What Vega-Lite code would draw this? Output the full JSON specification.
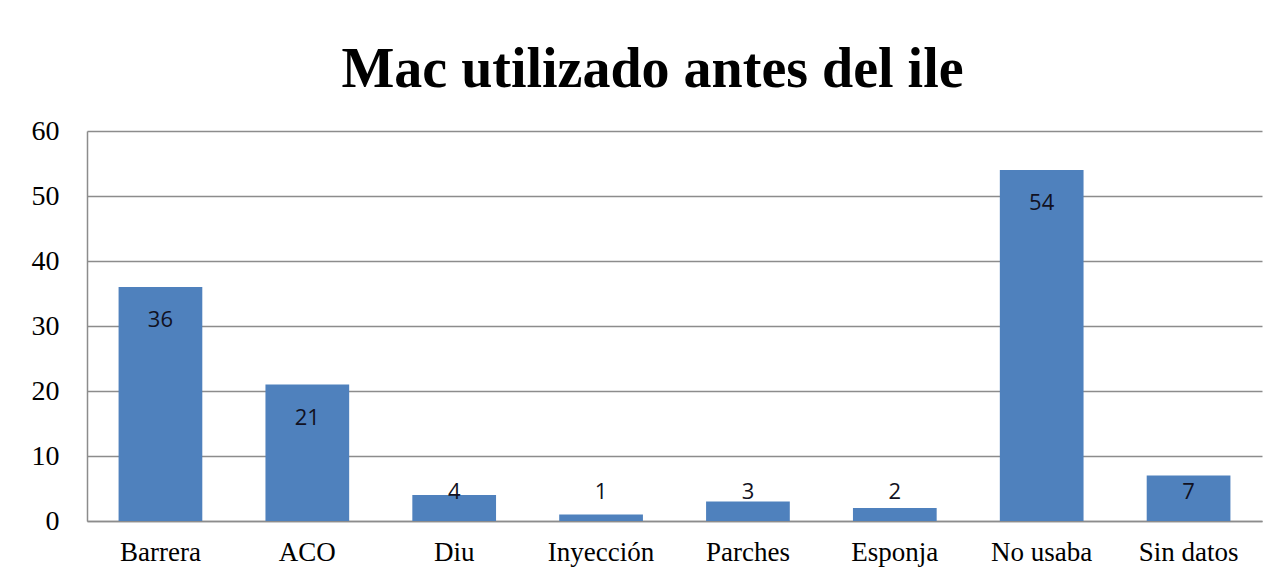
{
  "$schema": "https://vega.github.io/schema/vega-lite/v6.json",
  "width": 1175,
  "height": 390,
  "autosize": {"type": "none"},
  "padding": {"left": 87, "top": 131, "right": 17, "bottom": 61},
  "background": "white",
  "title": {
    "text": "Mac utilizado antes del ile",
    "font": "Liberation Serif",
    "fontSize": 56,
    "fontWeight": "bold",
    "color": "#000000",
    "anchor": "middle",
    "baseline": "alphabetic",
    "offset": -26,
    "dx": -22
  },
  "data": {
    "values": [
      {"metodo": "Barrera", "n": 36},
      {"metodo": "ACO", "n": 21},
      {"metodo": "Diu", "n": 4},
      {"metodo": "Inyección", "n": 1},
      {"metodo": "Parches", "n": 3},
      {"metodo": "Esponja", "n": 2},
      {"metodo": "No usaba", "n": 54},
      {"metodo": "Sin datos", "n": 7}
    ]
  },
  "encoding": {
    "x": {
      "field": "metodo",
      "type": "nominal",
      "sort": null,
      "scale": {"paddingInner": 0.43, "paddingOuter": 0.215},
      "axis": {
        "title": null,
        "labelAngle": 0,
        "labelFont": "Liberation Serif",
        "labelFontSize": 27,
        "labelColor": "#000000",
        "labelPadding": 18,
        "ticks": false,
        "domainColor": "#8c8c8c",
        "domainWidth": 1.5
      }
    }
  },
  "layer": [
    {
      "mark": {"type": "bar", "color": "#4F81BD"},
      "encoding": {
        "y": {
          "field": "n",
          "type": "quantitative",
          "scale": {"domain": [0, 60]},
          "axis": {
            "title": null,
            "values": [0, 10, 20, 30, 40, 50, 60],
            "labelFont": "Liberation Serif",
            "labelFontSize": 28,
            "labelColor": "#000000",
            "labelPadding": 28,
            "ticks": false,
            "grid": true,
            "gridColor": "#8c8c8c",
            "gridWidth": 1.5,
            "domainColor": "#8c8c8c",
            "domainWidth": 1.5
          }
        }
      }
    },
    {
      "transform": [{"filter": "datum.n >= 10"}],
      "mark": {"type": "text", "font": "Open Sans", "fontSize": 22, "color": "#111122", "baseline": "middle", "dy": 33},
      "encoding": {
        "y": {"field": "n", "type": "quantitative"},
        "text": {"field": "n", "type": "quantitative"}
      }
    },
    {
      "transform": [{"filter": "datum.n < 10"}],
      "mark": {"type": "text", "font": "Open Sans", "fontSize": 22, "color": "#111122", "baseline": "middle", "dy": -29},
      "encoding": {
        "y": {"datum": 0, "type": "quantitative"},
        "text": {"field": "n", "type": "quantitative"}
      }
    }
  ],
  "config": {"view": {"stroke": null}}
}
